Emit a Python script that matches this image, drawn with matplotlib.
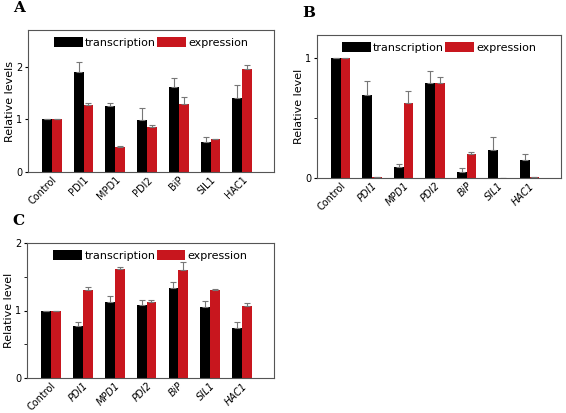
import matplotlib
matplotlib.use("Agg")
import matplotlib.pyplot as plt
import numpy as np

cats = ["Control", "PDI1", "MPD1", "PDI2", "BiP", "SIL1", "HAC1"]
a_tr = [1, 1.90, 1.26, 0.99, 1.62, 0.57, 1.41]
a_tr_err = [0, 0.19, 0.06, 0.22, 0.17, 0.09, 0.25]
a_ex = [1, 1.28, 0.48, 0.86, 1.30, 0.62, 1.96]
a_ex_err = [0, 0.03, 0.01, 0.03, 0.12, 0.01, 0.07]
b_tr = [1, 0.69, 0.09, 0.79, 0.05, 0.23, 0.15]
b_tr_err = [0, 0.12, 0.03, 0.10, 0.03, 0.11, 0.05]
b_ex = [1, 0.005, 0.62, 0.79, 0.20, 0.0, 0.005]
b_ex_err = [0, 0, 0.10, 0.05, 0.02, 0, 0]
c_tr = [1, 0.77, 1.12, 1.08, 1.34, 1.05, 0.74]
c_tr_err = [0, 0.06, 0.09, 0.08, 0.08, 0.09, 0.09]
c_ex = [1, 1.31, 1.62, 1.13, 1.60, 1.31, 1.06]
c_ex_err = [0, 0.04, 0.03, 0.02, 0.12, 0.01, 0.05]

RED = "#c8161e"
fig = plt.figure(figsize=(5.66, 4.13), dpi=100)
W, H = 566, 413

def panel(box, tr, tre, ex, exe, ylim, yticks, ylabel, letter, italic, minor=None):
    x0, y0, x1, y1 = box
    ax = fig.add_axes([x0 / W, 1 - y1 / H, (x1 - x0) / W, (y1 - y0) / H])
    x = np.arange(len(cats))
    w = 0.31
    ek = dict(ecolor="#777777", elinewidth=0.8, capsize=2, capthick=0.8)
    ax.bar(x - w / 2, tr, w, color="black", label="transcription",
           yerr=[np.zeros(len(tr)), tre], error_kw=ek)
    ax.bar(x + w / 2, ex, w, color=RED, label="expression",
           yerr=[np.zeros(len(ex)), exe], error_kw=ek)
    ax.set_xlim(-0.75, 7.0)
    ax.set_ylim(*ylim)
    ax.set_yticks(yticks)
    if minor is not None:
        ax.set_yticks(minor, minor=True)
    ax.set_xticks(x)
    labs = ax.set_xticklabels(cats, rotation=45, ha="right", rotation_mode="anchor", fontsize=7)
    if italic:
        for l in labs[1:]:
            l.set_fontstyle("italic")
    ax.tick_params(axis="x", length=0, pad=2)
    ax.tick_params(axis="y", labelsize=7, direction="out", length=2, pad=2)
    ax.set_ylabel(ylabel, fontsize=8, labelpad=1)
    for s in ax.spines.values():
        s.set_color("#555555")
        s.set_linewidth(0.8)
    ax.legend(loc="upper center", ncol=2, frameon=False, fontsize=8, handlelength=2.6,
              handleheight=1.1, handletextpad=0.2, columnspacing=0.1, borderaxespad=0.2)
    fig.text((x0 - 15) / W, 1 - (y0 - 22) / H, letter, fontsize=11, fontweight="bold",
             family="DejaVu Serif", va="center")
    return ax

panel((28, 30, 274, 172), a_tr, a_tr_err, a_ex, a_ex_err, (0, 2.7), [0, 1, 2], "Relative levels", "A", False)
panel((317, 35, 561, 178), b_tr, b_tr_err, b_ex, b_ex_err, (0, 1.19), [0, 1], "Relative level", "B", True, minor=[0.5])
panel((27, 243, 274, 378), c_tr, c_tr_err, c_ex, c_ex_err, (0, 2.0), [0, 1, 2], "Relative level", "C", True, minor=[0.5, 1.5])

fig.savefig("out.png", dpi=100)
